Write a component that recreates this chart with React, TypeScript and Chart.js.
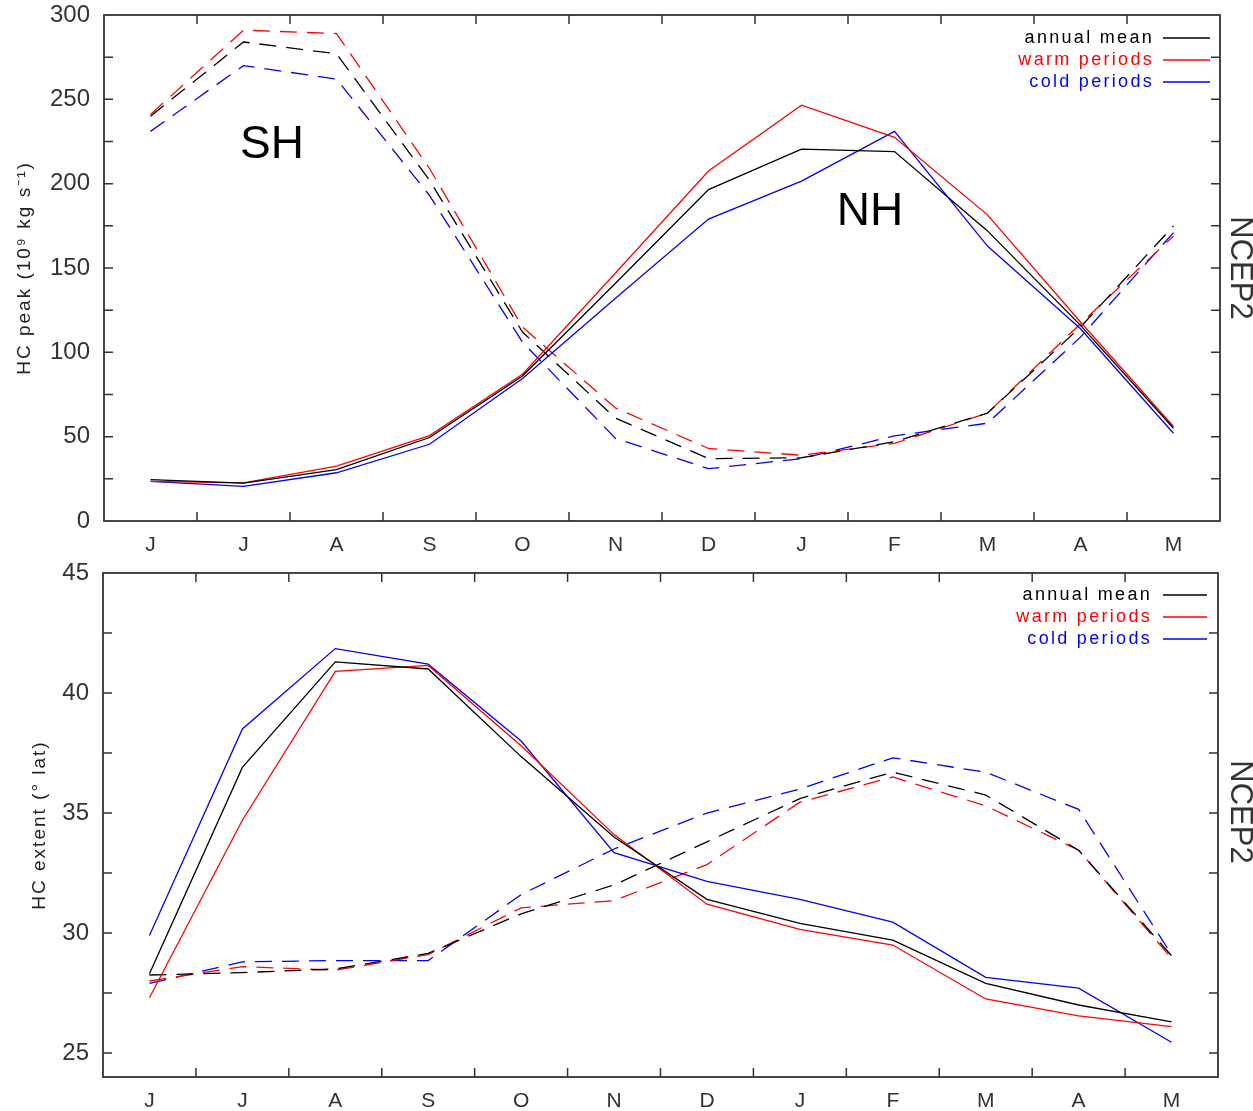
import React, { useEffect, useRef } from 'react';
import { Chart, registerables } from 'chart.js';

Chart.register(...registerables);

// ---------- data ----------
const MONTHS = ['J', 'J', 'A', 'S', 'O', 'N', 'D', 'J', 'F', 'M', 'A', 'M'];

const LEGEND_LABELS = ['annual mean', 'warm periods', 'cold periods'];
const SERIES_COLORS = ['#000000', '#ff0000', '#0000ff'];

// HC peak (top panel) – solid lines (NH)
const PEAK_SOLID_MEAN = [24.5, 22.5, 30.5, 49.5, 86, 141, 196.5, 220.5, 219, 172, 116, 55];
const PEAK_SOLID_WARM = [23.5, 22.6, 32.6, 50.6, 87, 147, 207.5, 246.5, 227.5, 181.5, 118, 56];
const PEAK_SOLID_COLD = [23.5, 20.5, 28.6, 45.5, 84.5, 132, 179, 201.5, 231, 163, 114, 52];
// HC peak – dashed lines (SH)
const PEAK_DASH_MEAN = [240, 284, 277, 202, 112, 61, 37, 37.5, 47, 64, 115, 175];
const PEAK_DASH_WARM = [241, 291, 289, 209, 115, 67, 43, 39, 46, 64, 117, 169];
const PEAK_DASH_COLD = [231, 270, 262, 193, 106, 49, 31, 37, 50.5, 58, 109, 171];

// HC extent (bottom panel) – solid lines
const EXT_SOLID_MEAN = [28.3, 36.9, 41.3, 41.0, 37.35, 34.0, 31.4, 30.4, 29.7, 27.9, 27.0, 26.3];
const EXT_SOLID_WARM = [27.3, 34.7, 40.9, 41.15, 37.8, 34.1, 31.2, 30.15, 29.5, 27.25, 26.55, 26.1];
const EXT_SOLID_COLD = [29.9, 38.5, 41.85, 41.2, 38.0, 33.35, 32.15, 31.4, 30.45, 28.15, 27.7, 25.45];
// HC extent – dashed lines
const EXT_DASH_MEAN = [28.25, 28.35, 28.5, 29.15, 30.8, 32.0, 33.8, 35.6, 36.7, 35.75, 33.45, 29.05];
const EXT_DASH_WARM = [28.0, 28.6, 28.45, 29.1, 31.05, 31.35, 32.85, 35.45, 36.5, 35.3, 33.45, 28.95];
const EXT_DASH_COLD = [27.9, 28.8, 28.85, 28.85, 31.6, 33.5, 35.0, 36.0, 37.3, 36.7, 35.15, 29.1];

const PEAK_TICKS = [0, 25, 50, 75, 100, 125, 150, 175, 200, 225, 250, 275, 300];
const PEAK_LABEL_STEP = 50;
const EXT_TICKS = [25, 27.5, 30, 32.5, 35, 37.5, 40, 42.5, 45];
const EXT_LABEL_STEP = 5;

const PEAK_TITLE = 'HC peak (10\u2079 kg s\u207B\u00B9)';
const EXT_TITLE = 'HC extent (\u00B0 lat)';
const SIDE_LABEL = 'NCEP2';

// ---------- chart builder ----------
type Spec = {
  solid: number[][];
  dashed: number[][];
  yMin: number;
  yMax: number;
  ticks: number[];
  labelStep: number;
  axisWidth: number;
  padTop: number;
  padRight: number;
  xAxisHeight: number;
  title: string;
  titleX: number;
  titleY: number;
  sideY: number;
  legendRows: number[];
  legendTextRight: number;
  legendLine: [number, number];
  notes: { text: string; x: number; y: number }[];
};

const TEXT_FONT = '"Liberation Sans", Arial, sans-serif';

function buildChart(canvas: HTMLCanvasElement, spec: Spec) {
  const datasets: any[] = [];
  spec.solid.forEach((d, i) =>
    datasets.push({
      label: LEGEND_LABELS[i],
      data: d,
      borderColor: SERIES_COLORS[i],
      backgroundColor: SERIES_COLORS[i],
      borderWidth: 1.3,
      pointRadius: 0,
      tension: 0,
      fill: false,
    })
  );
  spec.dashed.forEach((d, i) =>
    datasets.push({
      label: LEGEND_LABELS[i] + ' (dashed)',
      data: d,
      borderColor: SERIES_COLORS[i],
      backgroundColor: SERIES_COLORS[i],
      borderWidth: 1.3,
      borderDash: [17, 10],
      pointRadius: 0,
      tension: 0,
      fill: false,
    })
  );

  const decor = {
    id: 'decor',
    afterDatasetsDraw(chart: any) {
      const { ctx, chartArea } = chart;
      const { left, right, top, bottom } = chartArea;
      const xs = chart.scales.x;
      const ys = chart.scales.y;
      ctx.save();
      // frame
      ctx.strokeStyle = '#333';
      ctx.lineWidth = 1.8;
      ctx.strokeRect(left, top, right - left, bottom - top);
      // inward ticks
      const TL = 9;
      ctx.lineWidth = 1.5;
      ctx.beginPath();
      ys.ticks.forEach((t: any) => {
        const py = ys.getPixelForValue(t.value);
        if (py <= top + 1 || py >= bottom - 1) return;
        ctx.moveTo(left, py);
        ctx.lineTo(left + TL, py);
        ctx.moveTo(right, py);
        ctx.lineTo(right - TL, py);
      });
      for (let i = 1; i < MONTHS.length; i++) {
        const px = (xs.getPixelForValue(i - 1) + xs.getPixelForValue(i)) / 2;
        ctx.moveTo(px, top);
        ctx.lineTo(px, top + TL);
        ctx.moveTo(px, bottom);
        ctx.lineTo(px, bottom - TL);
      }
      ctx.stroke();

      // y-axis title
      ctx.fillStyle = '#222';
      ctx.font = `19px ${TEXT_FONT}`;
      (ctx as any).letterSpacing = '2px';
      ctx.textAlign = 'center';
      ctx.textBaseline = 'middle';
      ctx.save();
      ctx.translate(spec.titleX, spec.titleY);
      ctx.rotate(-Math.PI / 2);
      ctx.fillText(spec.title, 0, 0);
      ctx.restore();

      // side label
      ctx.save();
      (ctx as any).letterSpacing = '0px';
      ctx.fillStyle = '#333';
      ctx.font = `31px ${TEXT_FONT}`;
      ctx.translate(1240, spec.sideY);
      ctx.rotate(Math.PI / 2);
      ctx.fillText(SIDE_LABEL, 0, 0);
      ctx.restore();

      // hemisphere notes
      (ctx as any).letterSpacing = '0px';
      ctx.fillStyle = '#000';
      ctx.font = `46px ${TEXT_FONT}`;
      spec.notes.forEach((n) => ctx.fillText(n.text, n.x, n.y));

      // legend
      ctx.font = `18px ${TEXT_FONT}`;
      (ctx as any).letterSpacing = '2.3px';
      ctx.textAlign = 'right';
      LEGEND_LABELS.forEach((lab, i) => {
        const y = spec.legendRows[i];
        ctx.fillStyle = SERIES_COLORS[i];
        ctx.fillText(lab, spec.legendTextRight + 2, y);
        ctx.strokeStyle = SERIES_COLORS[i];
        ctx.lineWidth = 1.3;
        ctx.beginPath();
        ctx.moveTo(spec.legendLine[0], y);
        ctx.lineTo(spec.legendLine[1], y);
        ctx.stroke();
      });
      ctx.restore();
    },
  };

  return new Chart(canvas, {
    type: 'line',
    data: { labels: MONTHS, datasets },
    options: {
      animation: false,
      responsive: false,
      devicePixelRatio: 1,
      layout: { padding: { top: spec.padTop, right: spec.padRight, left: 0, bottom: 0 } },
      plugins: { legend: { display: false }, tooltip: { enabled: false }, title: { display: false } },
      scales: {
        x: {
          type: 'category',
          offset: true,
          grid: { display: false, drawTicks: false, offset: true },
          border: { display: false },
          ticks: {
            color: '#333',
            font: { family: TEXT_FONT, size: 21 },
            padding: 12,
            maxRotation: 0,
            autoSkip: false,
          },
          afterFit: (s: any) => {
            s.height = spec.xAxisHeight;
            s.paddingLeft = 0;
            s.paddingRight = 0;
          },
        },
        y: {
          type: 'linear',
          min: spec.yMin,
          max: spec.yMax,
          grid: { display: false, drawTicks: false },
          border: { display: false },
          afterBuildTicks: (s: any) => {
            s.ticks = spec.ticks.map((v) => ({ value: v }));
          },
          ticks: {
            color: '#333',
            font: { family: TEXT_FONT, size: 24 },
            padding: 14,
            autoSkip: false,
            callback: (v: any) => {
              const n = Number(v);
              return Math.abs(n / spec.labelStep - Math.round(n / spec.labelStep)) < 1e-6 ? String(n) : '';
            },
          },
          afterFit: (s: any) => {
            s.width = spec.axisWidth;
            s.paddingTop = 0;
            s.paddingBottom = 0;
          },
        },
      },
    },
    plugins: [decor],
  } as any);
}

const TOP_H = 558;
const BOT_H = 1111 - TOP_H;

export default function App() {
  const topRef = useRef<HTMLCanvasElement>(null);
  const botRef = useRef<HTMLCanvasElement>(null);

  useEffect(() => {
    const c1 = buildChart(topRef.current!, {
      solid: [PEAK_SOLID_MEAN, PEAK_SOLID_WARM, PEAK_SOLID_COLD],
      dashed: [PEAK_DASH_MEAN, PEAK_DASH_WARM, PEAK_DASH_COLD],
      yMin: 0,
      yMax: 300,
      ticks: PEAK_TICKS,
      labelStep: PEAK_LABEL_STEP,
      axisWidth: 104,
      padTop: 15,
      padRight: 33,
      xAxisHeight: TOP_H - 521,
      title: PEAK_TITLE,
      titleX: 25,
      titleY: 268,
      sideY: 268,
      legendRows: [38, 60, 82],
      legendTextRight: 1152,
      legendLine: [1163, 1210],
      notes: [
        { text: 'SH', x: 272, y: 145 },
        { text: 'NH', x: 870, y: 212 },
      ],
    });
    const c2 = buildChart(botRef.current!, {
      solid: [EXT_SOLID_MEAN, EXT_SOLID_WARM, EXT_SOLID_COLD],
      dashed: [EXT_DASH_MEAN, EXT_DASH_WARM, EXT_DASH_COLD],
      yMin: 24,
      yMax: 45,
      ticks: EXT_TICKS,
      labelStep: EXT_LABEL_STEP,
      axisWidth: 103,
      padTop: 15,
      padRight: 35,
      xAxisHeight: BOT_H - 519,
      title: EXT_TITLE,
      titleX: 40,
      titleY: 267,
      sideY: 254,
      legendRows: [37, 59, 81],
      legendTextRight: 1150,
      legendLine: [1163, 1207],
      notes: [],
    });
    return () => {
      c1.destroy();
      c2.destroy();
    };
  }, []);

  return (
    <div style={{ position: 'absolute', left: 0, top: 0, width: 1253, height: 1111, background: '#fff' }}>
      <canvas
        ref={topRef}
        width={1253}
        height={TOP_H}
        style={{ position: 'absolute', left: 0, top: 0, width: 1253, height: TOP_H }}
      />
      <canvas
        ref={botRef}
        width={1253}
        height={BOT_H}
        style={{ position: 'absolute', left: 0, top: TOP_H, width: 1253, height: BOT_H }}
      />
    </div>
  );
}
